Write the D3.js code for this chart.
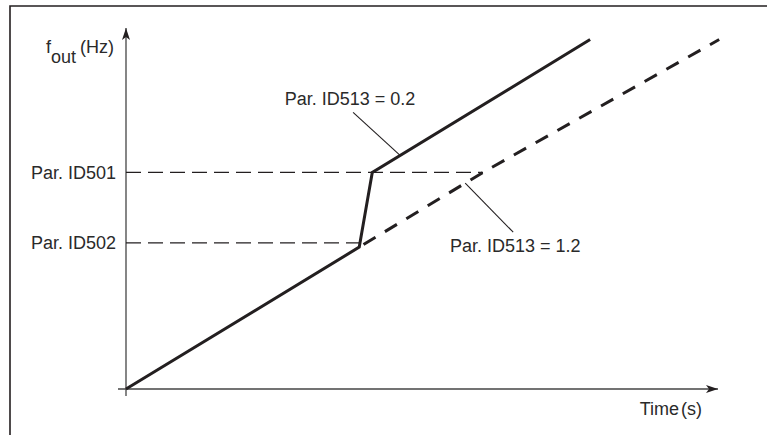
<!DOCTYPE html>
<html>
<head>
<meta charset="utf-8">
<script src="https://cdnjs.cloudflare.com/ajax/libs/d3/7.8.5/d3.min.js"></script>
<style>
  body { margin: 0; background: #fff; }
  svg text { font-family: "Liberation Sans", Arial, sans-serif; fill: #2a2a2a; }
</style>
</head>
<body>
<div id="chart"></div>
<script>
// reference levels on the frequency axis
var levelNames = ['Par. ID501', 'Par. ID502'];
var levelFreq = [60, 40.5];

// fast ramp (ID513 = 0.2): jumps through the band
var fastTime = [0, 39.4, 41.6, 78.4];
var fastFreq = [0, 39.3, 60, 96.8];

// slow ramp (ID513 = 1.2): continues through the band
var slowTime = [39.4, 60.3, 100.2];
var slowFreq = [39.3, 60, 96.8];

// annotations: point on curve and label
var noteNames = ['Par. ID513 = 0.2', 'Par. ID513 = 1.2'];
var noteTime = [46.3, 57.3];
var noteFreq = [64.7, 57.0];

var width = 767, height = 435;
var fontSize = 18;

var svg = d3.select('#chart')
  .append('svg')
  .attr('width', width)
  .attr('height', height);

var x = d3.scaleLinear().domain([0, 100]).range([126, 718]);
var y = d3.scaleLinear().domain([0, 100]).range([389, 28]);

// frame (top and left edges only)
svg.append('path')
  .attr('d', 'M10,' + height + ' L10,6 L' + width + ',6')
  .attr('fill', 'none')
  .attr('stroke', '#231f20')
  .attr('stroke-width', 1.6);

var defs = svg.append('defs');
defs.append('marker')
  .attr('id', 'arrow')
  .attr('viewBox', '0 0 12 8')
  .attr('refX', 12)
  .attr('refY', 4)
  .attr('markerWidth', 12)
  .attr('markerHeight', 8)
  .attr('markerUnits', 'userSpaceOnUse')
  .attr('orient', 'auto')
  .append('path')
  .attr('d', 'M0,0 L12,4 L0,8 L3,4 Z')
  .attr('fill', '#231f20');

// axes
svg.append('line')
  .attr('x1', x(0)).attr('y1', y(0) + 7)
  .attr('x2', x(0)).attr('y2', y(100))
  .attr('stroke', '#444').attr('stroke-width', 1.3)
  .attr('marker-end', 'url(#arrow)');
svg.append('line')
  .attr('x1', x(0) - 8).attr('y1', y(0))
  .attr('x2', x(100)).attr('y2', y(0))
  .attr('stroke', '#444').attr('stroke-width', 1.3)
  .attr('marker-end', 'url(#arrow)');

// level dashes: ID501 runs to the slow ramp, ID502 to the kink
var levelEnd = [slowTime[1], fastTime[1]];
levelNames.forEach(function (name, i) {
  svg.append('line')
    .attr('x1', x(0)).attr('y1', y(levelFreq[i]))
    .attr('x2', x(levelEnd[i])).attr('y2', y(levelFreq[i]))
    .attr('stroke', '#231f20').attr('stroke-width', 1.3)
    .attr('stroke-dasharray', '15,7');
  svg.append('text')
    .attr('x', x(0) - 10)
    .attr('y', y(levelFreq[i]))
    .attr('dy', '0.35em')
    .attr('text-anchor', 'end')
    .attr('font-size', fontSize)
    .text(name);
});

var line = d3.line()
  .x(function (d) { return x(d[0]); })
  .y(function (d) { return y(d[1]); });

svg.append('path')
  .datum(d3.zip(slowTime, slowFreq))
  .attr('d', line)
  .attr('fill', 'none')
  .attr('stroke', '#231f20')
  .attr('stroke-width', 3)
  .attr('stroke-dasharray', '0,5,14,6');

svg.append('path')
  .datum(d3.zip(fastTime, fastFreq))
  .attr('d', line)
  .attr('fill', 'none')
  .attr('stroke', '#231f20')
  .attr('stroke-width', 3)
  .attr('stroke-linejoin', 'miter');

// annotation leaders
var noteOffset = [[-47, -43], [48, 49]];
var noteText = [[-3, -7], [2, 20]];
noteNames.forEach(function (name, i) {
  var px = x(noteTime[i]), py = y(noteFreq[i]);
  var ex = px + noteOffset[i][0], ey = py + noteOffset[i][1];
  svg.append('line')
    .attr('x1', px).attr('y1', py)
    .attr('x2', ex).attr('y2', ey)
    .attr('stroke', '#231f20').attr('stroke-width', 1.1);
  svg.append('text')
    .attr('x', ex + noteText[i][0])
    .attr('y', ey + noteText[i][1])
    .attr('text-anchor', 'middle')
    .attr('font-size', fontSize)
    .text(name);
});

// axis titles
var yTitle = svg.append('text')
  .attr('x', 46)
  .attr('y', 53)
  .attr('font-size', fontSize);
yTitle.append('tspan').text('f');
yTitle.append('tspan').attr('dy', 10).text('out');
yTitle.append('tspan').attr('dy', -10).attr('dx', 4).text('(Hz)');

svg.append('text')
  .attr('x', x(100) - 16)
  .attr('y', 415)
  .attr('text-anchor', 'end')
  .attr('font-size', fontSize)
  .attr('word-spacing', -3)
  .text('Time (s)');
</script>
</body>
</html>
